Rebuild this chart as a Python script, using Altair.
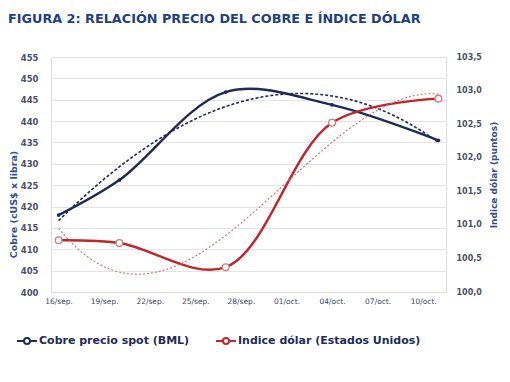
import altair as alt
import pandas as pd

# Data (days since 16/sep)
days = [0, 4, 11, 18, 25]
cobre = [418.0, 426.2, 446.8, 443.8, 435.5]
dolar = [100.77, 100.73, 100.37, 102.52, 102.88]

tick_days = [0, 3, 6, 9, 12, 15, 18, 21, 24]
tick_labels = ["16/sep.", "19/sep.", "22/sep.", "25/sep.", "28/sep.",
               "01/oct.", "04/oct.", "07/oct.", "10/oct."]

left_ticks = [400, 405, 410, 415, 420, 425, 430, 435, 440, 445, 450, 455]
right_ticks = [100.0, 100.5, 101.0, 101.5, 102.0, 102.5, 103.0, 103.5]

serie_names = ["Cobre precio spot (BML)", "Indice dólar (Estados Unidos)"]
NAVY = "#1f2b57"
RED = "#c0262c"

df = pd.DataFrame({"day": days, "cobre": cobre, "dolar": dolar})

label_arr = "[" + ",".join("'" + t + "'" for t in tick_labels) + "]"
x_scale = alt.Scale(domain=[-0.5, 25.5], nice=False, zero=False)
x_axis = alt.Axis(values=tick_days, labelExpr=label_arr + "[datum.value/3]",
                  title=None, grid=False, ticks=False, domain=True,
                  domainColor="#d9d9d9", labelFont="DejaVu Sans",
                  labelFontSize=7.5, labelColor="#3a4660", labelPadding=5,
                  labelOverlap=False)


def X():
    return alt.X("day:Q", scale=x_scale, axis=x_axis)


base = alt.Chart(df)

yl_scale = alt.Scale(domain=[400, 455], nice=False, zero=False)
yl_axis = alt.Axis(values=left_ticks, title="Cobre (cUS$ x libra)",
                   grid=True, gridColor="#e4e4e4", ticks=False, domain=False,
                   labelOverlap=False,
                   labelFont="DejaVu Sans", labelFontSize=8.5, labelFontWeight="bold",
                   labelColor="#4a5268", labelPadding=13,
                   titleFont="DejaVu Sans", titleFontSize=9.5, titleFontWeight="bold",
                   titleColor="#2f4f8f", titleX=-38, titleY=147,
                   titleBaseline="middle", titleAlign="center")


def YL():
    return alt.Y("cobre:Q", scale=yl_scale, axis=yl_axis)


copper_line = base.transform_calculate(serie="'" + serie_names[0] + "'").mark_line(
    interpolate="catmull-rom", strokeWidth=2.4
).encode(
    x=X(),
    y=YL(),
    color=alt.Color("serie:N",
                    scale=alt.Scale(domain=serie_names, range=[NAVY, RED]),
                    legend=alt.Legend(
                        title=None, orient="none", direction="horizontal",
                        legendX=-35, legendY=273,
                        symbolType="M-1,0H-0.3M0.3,0H1M-0.3,0A0.3,0.3,0,1,0,0.3,0A0.3,0.3,0,1,0,-0.3,0",
                        symbolSize=400, symbolStrokeWidth=2,
                        labelFont="DejaVu Sans", labelFontSize=11, labelFontWeight="bold",
                        labelColor="#1f2b57", labelOffset=1, columnPadding=22,
                        labelLimit=300,
                    )),
)
copper_trend = base.transform_regression(
    "day", "cobre", method="poly", order=3, extent=[0, 25]
).mark_line(strokeWidth=1.6, strokeDash=[3, 2], color=NAVY).encode(x=X(), y=YL())
copper_pts = base.mark_point(filled=True, size=14, color=NAVY, opacity=1).encode(
    x=X(), y=YL())

copper = alt.layer(copper_line, copper_trend, copper_pts)

yr_scale = alt.Scale(domain=[100.0, 103.5], nice=False, zero=False)
yr_axis = alt.Axis(orient="right", values=right_ticks,
                   labelExpr="replace(format(datum.value, '.1f'), '.', ',')",
                   title="Indice dólar (puntos)", grid=False, ticks=False, domain=False,
                   labelOverlap=False,
                   labelFont="DejaVu Sans", labelFontSize=8, labelFontWeight="bold",
                   labelColor="#4a5268", labelPadding=10,
                   titleFont="DejaVu Sans", titleFontSize=9, titleFontWeight="bold",
                   titleColor="#2f4f8f", titleAngle=270, titleBaseline="top",
                   titlePadding=8)


def YR():
    return alt.Y("dolar:Q", scale=yr_scale, axis=yr_axis)


dollar_line = base.transform_calculate(serie="'" + serie_names[1] + "'").mark_line(
    interpolate="catmull-rom", strokeWidth=2.4
).encode(
    x=X(),
    y=YR(),
    color=alt.Color("serie:N"),
)
dollar_trend = base.transform_regression(
    "day", "dolar", method="poly", order=3, extent=[0, 25]
).mark_line(strokeWidth=1.1, strokeDash=[2, 2], color="#d26a6a").encode(x=X(), y=YR())
dollar_pts = base.mark_point(filled=True, size=45, fill="white", stroke="#cf7d7d",
                             strokeWidth=1.3, opacity=1).encode(x=X(), y=YR())

dollar = alt.layer(dollar_line, dollar_trend, dollar_pts)

chart = alt.layer(copper, dollar).resolve_scale(y="independent").properties(
    width=395, height=235,
    padding={"left": 0, "top": 5, "right": 2, "bottom": 5},
    title=alt.Title("FIGURA 2: RELACIÓN PRECIO DEL COBRE E ÍNDICE DÓLAR",
                    anchor="start", frame="bounds", font="DejaVu Sans",
                    fontSize=12.8, fontWeight="bold", color="#1f3f7f", offset=27),
).configure_view(stroke=None).configure(background="white")

chart.save("out.html", embed_options={"renderer": "svg", "actions": False})
